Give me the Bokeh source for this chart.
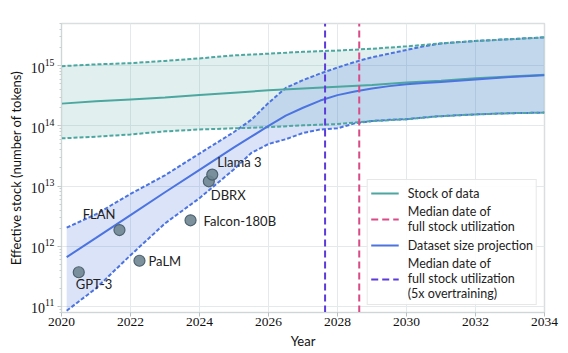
import numpy as np
from bokeh.plotting import figure
from bokeh.models import Range1d, ColumnDataSource, Legend, LegendItem, FixedTicker
from bokeh.embed import file_html
from bokeh.resources import INLINE
from bokeh.core.properties import value

# ---------------- data ----------------
stock_years = [2020, 2021, 2022, 2023, 2024, 2025, 2026, 2027, 2028, 2029, 2030, 2031, 2032, 2033, 2034]
stock_median = [2.34e14, 2.57e14, 2.75e14, 2.95e14, 3.24e14, 3.55e14, 3.89e14, 4.17e14, 4.47e14,
                4.79e14, 5.25e14, 5.62e14, 6.17e14, 6.61e14, 7.08e14]
stock_high = [9.8e14, 1.05e15, 1.10e15, 1.20e15, 1.32e15, 1.48e15, 1.58e15, 1.70e15, 1.78e15,
              1.91e15, 2.09e15, 2.34e15, 2.57e15, 2.75e15, 2.95e15]
stock_low = [6.2e13, 6.6e13, 7.2e13, 8.1e13, 8.7e13, 9.1e13, 9.5e13, 1.02e14, 1.07e14,
             1.20e14, 1.29e14, 1.45e14, 1.55e14, 1.62e14, 1.66e14]

proj_years = [2020.15, 2021, 2022, 2023, 2024, 2025, 2025.5, 2026, 2026.5, 2027, 2027.5, 2028,
              2028.5, 2029, 2029.5, 2030, 2030.5, 2031, 2032, 2033, 2034]
proj_median = [6.6e11, 1.38e12, 3.3e12, 7.9e12, 1.86e13, 4.4e13, 6.6e13, 1.0e14, 1.48e14, 2.0e14,
               2.63e14, 3.24e14, 3.72e14, 4.17e14, 4.57e14, 4.9e14, 5.13e14, 5.37e14, 5.89e14,
               6.46e14, 6.92e14]
proj_high = [2.04e12, 3.4e12, 7.4e12, 1.51e13, 3.47e13, 7.9e13, 1.26e14, 2.4e14, 4.27e14, 5.75e14,
             7.4e14, 9.3e14, 1.15e15, 1.38e15, 1.58e15, 1.82e15, 2.09e15, 2.34e15, 2.57e15,
             2.75e15, 2.95e15]
proj_low = [8.5e10, 2.0e11, 7.1e11, 2.4e12, 6.3e12, 1.9e13, 3.55e13, 5.0e13, 6.0e13, 7.6e13,
            8.7e13, 9.1e13, 1.10e14, 1.20e14, 1.26e14, 1.29e14, 1.38e14, 1.45e14, 1.55e14,
            1.62e14, 1.66e14]

model_names = ["GPT-3", "FLAN", "PaLM", "Falcon-180B", "DBRX", "Llama 3"]
model_dates = [2020.50, 2021.68, 2022.26, 2023.74, 2024.27, 2024.37]
model_tokens = [3.7e11, 1.86e12, 5.75e11, 2.7e12, 1.2e13, 1.55e13]

median_full_use = 2028.63
median_full_use_5x = 2027.64

x_ticks = [2020, 2022, 2024, 2026, 2028, 2030, 2032, 2034]
y_ticks = [1e11, 1e12, 1e13, 1e14, 1e15]
y_min, y_max = 10 ** 10.9, 10 ** 15.7

# ---------------- style ----------------
TEAL = "#4ba79f"
BLUE = "#4c74e0"
PINK = "#d94a86"
PURPLE = "#5b3bd9"
SANS = "Lato"
SERIF = "serif"

label_dx = [-3, -4, 9, 13, 2, 5]
label_dy = [12, -16, 0, 1, 14, -13]
label_align = ["left", "right", "left", "left", "left", "left"]

p = figure(width=568, height=353,
           x_range=Range1d(2020, 2034), y_range=Range1d(y_min, y_max),
           y_axis_type="log", output_backend="svg", toolbar_location=None,
           min_border_left=61, min_border_right=24, min_border_top=23, min_border_bottom=41)

p.background_fill_color = "white"
p.border_fill_color = "white"
p.outline_line_color = "#d9dfe0"
p.outline_line_width = 1.5

# bands
p.varea(x=stock_years, y1=stock_low, y2=stock_high, fill_color=TEAL, fill_alpha=0.17)
p.varea(x=proj_years, y1=proj_low, y2=proj_high, fill_color=BLUE, fill_alpha=0.2)

# band edges
p.line(proj_years, proj_high, line_color=BLUE, line_width=2, line_dash="4 2")
p.line(proj_years, proj_low, line_color=BLUE, line_width=2, line_dash="4 2")
p.line(stock_years, stock_high, line_color=TEAL, line_width=2, line_dash="4 2")
p.line(stock_years, stock_low, line_color=TEAL, line_width=2, line_dash="4 2")

r_stock = p.line(stock_years, stock_median, line_color=TEAL, line_width=2)
r_proj = p.line(proj_years, proj_median, line_color=BLUE, line_width=2)

r_pink = p.line(x=[median_full_use, median_full_use], y=[y_min, y_max],
                line_color=PINK, line_width=2, line_dash="7 4")
r_purple = p.line(x=[median_full_use_5x, median_full_use_5x], y=[y_min, y_max],
                  line_color=PURPLE, line_width=2, line_dash="7 4")

src = ColumnDataSource(dict(x=model_dates, y=model_tokens, name=model_names,
                            dx=label_dx, dy=label_dy, align=label_align))
p.scatter("x", "y", source=src, size=11, fill_color="#6f8591", line_color="#4d6270",
          line_width=1.2, fill_alpha=0.9)
p.text("x", "y", text="name", source=src, x_offset="dx", y_offset="dy", text_align="align",
       text_baseline="middle", text_font=value(SANS), text_font_size="13px", text_color="#222222")

legend = Legend(items=[
    LegendItem(label="Stock of data", renderers=[r_stock]),
    LegendItem(label="Median date of\nfull stock utilization", renderers=[r_pink]),
    LegendItem(label="Dataset size projection", renderers=[r_proj]),
    LegendItem(label="Median date of\nfull stock utilization\n(5x overtraining)", renderers=[r_purple]),
], location="bottom_right")
legend.label_text_font = SANS
legend.label_text_font_size = "12.5px"
legend.label_text_line_height = 1.08
legend.label_text_color = "#222222"
legend.border_line_color = "#d0d0d0"
legend.border_line_width = 1
legend.background_fill_alpha = 0.9
legend.glyph_width = 28
legend.label_standoff = 9
legend.spacing = 1
legend.padding = 3
legend.margin = 7
p.add_layout(legend)

p.xaxis.ticker = FixedTicker(ticks=x_ticks)
p.yaxis.ticker.desired_num_ticks = 6
xa = p.xaxis[0]
ya = p.yaxis[0]
for ax in (xa, ya):
    ax.axis_line_color = "#cfd6d8"
    ax.major_tick_line_color = "#b8c0c2"
    ax.minor_tick_line_color = "#c8cfd1"
    ax.major_tick_out = 4
    ax.major_tick_in = 0
    ax.major_label_text_color = "#111111"
    ax.major_label_text_font = SERIF
    ax.axis_label_text_font = SANS
    ax.axis_label_text_font_size = "13px"
    ax.axis_label_text_font_style = "normal"
    ax.axis_label_text_color = "#111111"
xa.major_label_text_font_size = "13.5px"
ya.major_label_text_font_size = "14px"
xa.minor_tick_line_color = None
ya.minor_tick_out = 2
ya.minor_tick_in = 0
xa.axis_label = "Year"
ya.axis_label = "Effective stock (number of tokens)"
xa.axis_label_standoff = 4
ya.axis_label_standoff = 4
xa.major_label_standoff = 1
ya.major_label_standoff = 3

p.xgrid.ticker = FixedTicker(ticks=x_ticks)
p.ygrid.ticker = FixedTicker(ticks=y_ticks)
p.grid.grid_line_color = "#e3eaec"
p.grid.grid_line_width = 1

open("out.html", "w").write(file_html(p, INLINE))
